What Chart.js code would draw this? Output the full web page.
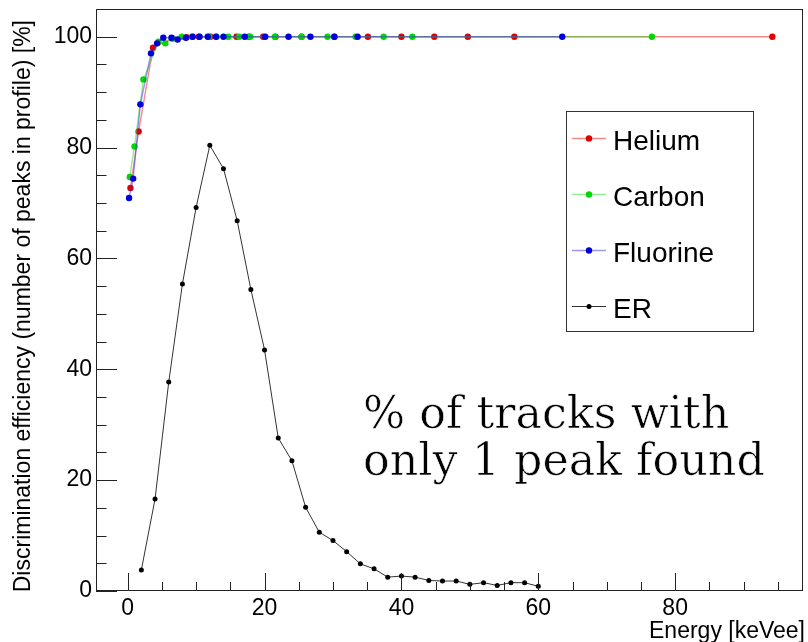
<!DOCTYPE html>
<html>
<head>
<meta charset="utf-8">
<script src="https://cdn.jsdelivr.net/npm/chart.js@4/dist/chart.umd.min.js"></script>
<style>
  html, body { margin: 0; padding: 0; background: #ffffff; }
  canvas { display: block; }
</style>
</head>
<body>
<canvas id="chart" width="808" height="642"></canvas>
<script>
// Energy [keVee] and discrimination efficiency [%] for each recoil species
const heliumEnergy = [0.4, 1.6, 3.7, 6.5, 8.6, 10.4, 12.1, 15.9, 17.7, 19.8, 21.6, 25.4, 30.2, 35.1, 40.0, 44.8, 49.7, 56.5, 94.2];
const heliumEff    = [72.7, 82.9, 98.0, 99.7, 99.9, 100, 100, 100, 100, 100, 100, 100, 100, 100, 100, 100, 100, 100, 100];

const carbonEnergy = [0.3, 1.0, 2.3, 4.5, 5.5, 6.6, 7.9, 9.4, 11.9, 13.0, 14.7, 16.3, 17.9, 21.5, 25.4, 29.2, 33.3, 37.4, 41.6, 76.6];
const carbonEff    = [74.7, 80.2, 92.3, 99.1, 98.8, 99.7, 100, 100, 100, 100, 100, 100, 100, 100, 100, 100, 100, 100, 100, 100];

const fluorineEnergy = [0.2, 0.8, 1.85, 3.4, 4.3, 5.2, 6.4, 7.3, 8.5, 9.5, 10.5, 11.7, 12.9, 14.0, 17.1, 20.1, 23.5, 26.7, 30.2, 33.6, 63.5];
const fluorineEff    = [70.9, 74.4, 87.8, 97.0, 98.8, 99.8, 99.8, 99.5, 99.8, 100, 100, 100, 100, 100, 100, 100, 100, 100, 100, 100, 100];

const erEnergy = [2, 4, 6, 8, 10, 12, 14, 16, 18, 20, 22, 24, 26, 28, 30, 32, 34, 36, 38, 40, 42, 44, 46, 48, 50, 52, 54, 56, 58, 60];
const erEff    = [3.8, 16.6, 37.7, 55.4, 69.2, 80.4, 76.2, 66.8, 54.4, 43.5, 27.6, 23.5, 15.1, 10.6, 9.1, 7.1, 4.9, 4.0, 2.5, 2.7, 2.5, 1.9, 1.8, 1.8, 1.2, 1.5, 1.0, 1.5, 1.5, 0.85];

const seriesNames = ['Helium', 'Carbon', 'Fluorine', 'ER'];
const xTickLabels = [0, 20, 40, 60, 80];
const yTickLabels = [0, 20, 40, 60, 80, 100];
const minorStep = 5;
const xTitle = 'Energy [keVee]';
const yTitle = 'Discrimination efficiency (number of peaks in profile) [%]';
const noteLines = ['% of tracks with', 'only 1 peak found'];

const pts = (xs, ys) => xs.map((x, i) => ({ x: x, y: ys[i] }));

const SANS = '"Liberation Sans", Arial, Helvetica, sans-serif';

function series(label, xs, ys, marker, line, radius, order) {
  return {
    label: label,
    data: pts(xs, ys),
    showLine: true,
    tension: 0,
    borderColor: line,
    borderWidth: 1.4,
    pointRadius: radius,
    pointHoverRadius: radius,
    pointBackgroundColor: marker,
    pointBorderColor: marker,
    pointBorderWidth: 0,
    order: order
  };
}

const datasets = [
  series(seriesNames[0], heliumEnergy, heliumEff, '#e00000', 'rgba(235,40,40,0.55)', 3.2, 2),
  series(seriesNames[1], carbonEnergy, carbonEff, '#00d800', 'rgba(40,220,40,0.5)', 3.2, 1),
  series(seriesNames[2], fluorineEnergy, fluorineEff, '#0000d8', 'rgba(50,50,230,0.5)', 3.2, 0),
  series(seriesNames[3], erEnergy, erEff, '#000000', '#333333', 2.5, 3)
];
datasets[3].borderWidth = 1;

// tick values every minorStep inside the axis range
function stepTicks(scale) {
  const out = [];
  const start = Math.ceil(scale.min / minorStep) * minorStep;
  for (let v = start; v <= scale.max + 1e-9; v += minorStep) out.push({ value: v });
  scale.ticks = out;
}

// Inward ROOT-style ticks, frame, legend box, axis titles and the annotation
const decorations = {
  id: 'decorations',
  afterDatasetsDraw(chart) {
    const ctx = chart.ctx;
    const a = chart.chartArea;
    const xs = chart.scales.x, ys = chart.scales.y;
    ctx.save();

    // frame
    ctx.strokeStyle = '#222';
    ctx.lineWidth = 1;
    ctx.strokeRect(a.left + 0.5, a.top + 0.5, a.right - a.left - 1, a.bottom - a.top - 1);

    // ticks
    ctx.beginPath();
    xs.ticks.forEach(t => {
      const v = t.value;
      const px = Math.round(xs.getPixelForValue(v)) + 0.5;
      const len = xTickLabels.includes(v) ? 18 : 9;
      ctx.moveTo(px, a.bottom);
      ctx.lineTo(px, a.bottom - len);
    });
    ys.ticks.forEach(t => {
      const v = t.value;
      const py = Math.round(ys.getPixelForValue(v)) + 0.5;
      const len = yTickLabels.includes(v) ? 21 : 10.5;
      ctx.moveTo(a.left, py);
      ctx.lineTo(a.left + len, py);
    });
    ctx.stroke();

    // legend
    const box = { x: 566.5, y: 111.5, w: 187, h: 220 };
    ctx.fillStyle = '#ffffff';
    ctx.fillRect(box.x, box.y, box.w, box.h);
    ctx.strokeStyle = '#333';
    ctx.strokeRect(box.x, box.y, box.w, box.h);
    const rowY = [138, 194, 250, 306];
    ctx.font = '28px ' + SANS;
    ctx.textAlign = 'left';
    ctx.textBaseline = 'alphabetic';
    chart.data.datasets.forEach((ds, i) => {
      const y = rowY[i];
      ctx.strokeStyle = ds.borderColor;
      ctx.lineWidth = ds.borderWidth;
      ctx.beginPath();
      ctx.moveTo(572, y + 0.5);
      ctx.lineTo(606, y + 0.5);
      ctx.stroke();
      ctx.fillStyle = ds.pointBackgroundColor;
      ctx.beginPath();
      ctx.arc(589, y + 0.5, ds.pointRadius, 0, Math.PI * 2);
      ctx.fill();
      ctx.fillStyle = '#000';
      ctx.fillText(ds.label, 613, y + 12);
    });

    // axis titles
    ctx.fillStyle = '#000';
    ctx.font = '23px ' + SANS;
    ctx.textAlign = 'right';
    ctx.textBaseline = 'alphabetic';
    ctx.fillText(xTitle, 805, 638);
    ctx.save();
    ctx.translate(30, 20);
    ctx.rotate(-Math.PI / 2);
    ctx.textAlign = 'right';
    ctx.fillText(yTitle, 0, 0);
    ctx.restore();

    // annotation, in a lighter serif: filled then trimmed with a thin white outline
    ctx.textAlign = 'left';
    let size = 42;
    ctx.font = size + 'px "DejaVu Serif", serif';
    const w = ctx.measureText(noteLines[1]).width;
    size = size * 402 / w;
    ctx.font = size.toFixed(2) + 'px "DejaVu Serif", serif';
    ctx.lineJoin = 'round';
    ctx.lineWidth = 0.6;
    ctx.strokeStyle = '#ffffff';
    [[noteLines[0], 428], [noteLines[1], 475]].forEach(([txt, y]) => {
      ctx.fillStyle = '#000';
      ctx.fillText(txt, 363, y);
      ctx.strokeText(txt, 363, y);
    });

    ctx.restore();
  }
};

new Chart(document.getElementById('chart'), {
  type: 'scatter',
  data: { datasets: datasets },
  options: {
    responsive: false,
    animation: false,
    devicePixelRatio: 1,
    layout: { padding: { top: 9, right: 5, left: 0, bottom: 0 } },
    plugins: { legend: { display: false }, tooltip: { enabled: false } },
    scales: {
      x: {
        type: 'linear',
        min: -4.63,
        max: 98.68,
        afterBuildTicks: stepTicks,
        afterFit(s) { s.height = 51; s.paddingLeft = 0; s.paddingRight = 0; },
        grid: { display: false, drawTicks: false },
        border: { display: false },
        ticks: {
          autoSkip: false,
          maxRotation: 0,
          padding: 4,
          color: '#000',
          font: { family: SANS, size: 23 },
          callback: v => xTickLabels.includes(v) ? String(v) : ''
        }
      },
      y: {
        type: 'linear',
        min: 0,
        max: 105,
        afterBuildTicks: stepTicks,
        afterFit(s) { s.width = 96; s.paddingTop = 0; s.paddingBottom = 0; },
        grid: { display: false, drawTicks: false },
        border: { display: false },
        ticks: {
          autoSkip: false,
          padding: 4,
          color: '#000',
          font: { family: SANS, size: 23 },
          callback: v => yTickLabels.includes(v) ? String(v) : ''
        }
      }
    }
  },
  plugins: [decorations]
});
</script>
</body>
</html>
